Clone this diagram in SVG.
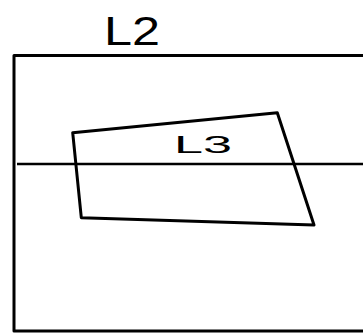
<svg xmlns="http://www.w3.org/2000/svg" width="363" height="334" viewBox="0 0 363 334">
<style>
.s{fill:none;stroke:#000;stroke-width:3;stroke-linejoin:round;stroke-linecap:round}
.t{font-family:"Liberation Sans",Arial,sans-serif;fill:#000}
</style>
<rect width="363" height="334" fill="#fff"/>
<g id="L2">
<rect class="s" x="14" y="55.5" width="360" height="275.5"/>
<text class="t" x="104" y="45" font-size="40" textLength="56" lengthAdjust="spacingAndGlyphs">L2</text>
</g>
<g id="connectors">
<line x1="17" y1="164" x2="363" y2="164" stroke="#000" stroke-width="2.5"/>
</g>
<g id="L3">
<polygon class="s" points="72.7,132.7 277.3,112.7 314,225 81.3,217.7"/>
<text class="t" x="174" y="153" font-size="24" textLength="58" lengthAdjust="spacingAndGlyphs">L3</text>
</g>
</svg>
